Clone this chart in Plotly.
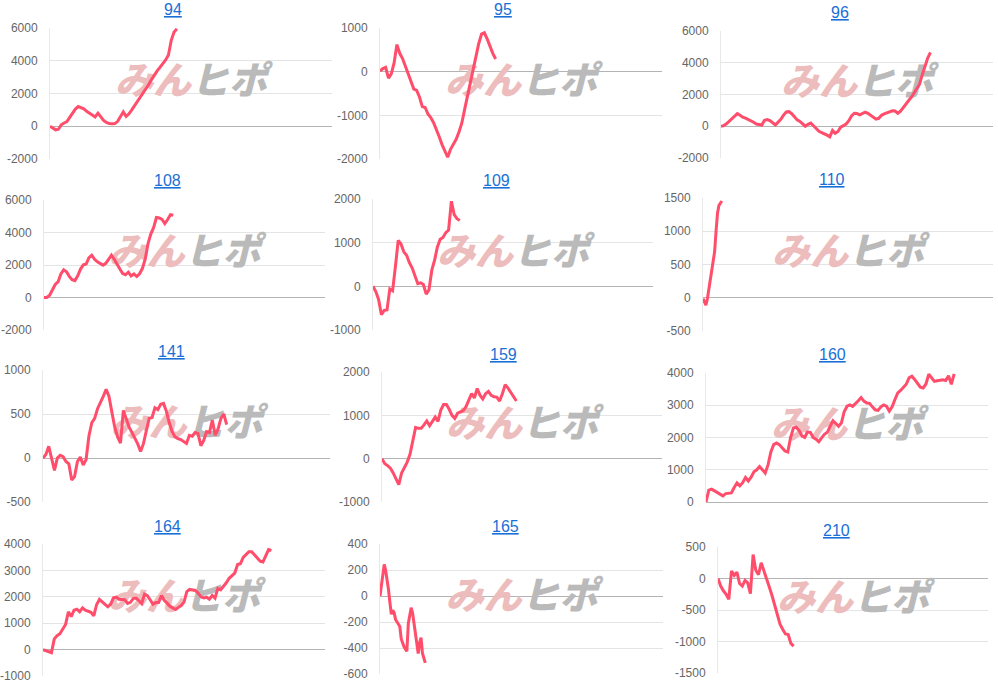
import plotly.graph_objects as go

# panel titles (each one is a link in the original page)
titles = ["94", "95", "96", "108", "109", "110", "141", "159", "160", "164", "165", "210"]

# cumulative P/L series
s94 = [0, -100, -220, -180, 90, 200, 280, 540, 840, 1050, 1200, 1150, 1060, 910, 790, 680,
       570, 800, 580, 360, 230, 160, 150, 160, 300, 580, 880, 600, 760, 1000, 1250, 1500,
       1800, 2030, 2250, 2550, 2850, 3150, 3380, 3600, 3820, 4050, 4350, 5250, 5750, 5950]
s95 = [15, 70, 100, -150, -50, 200, 620, 420, 300, 120, -80, -250, -400, -430, -580, -800,
       -820, -970, -1050, -1170, -1320, -1490, -1670, -1830, -1960, -1780, -1650, -1550, -1380,
       -1180, -870, -560, -230, 70, 350, 640, 860, 890, 750, 560, 420, 290]
s96 = [0, 40, 150, 300, 450, 650, 800, 690, 570, 510, 440, 370, 250, 140, 90, 80, 380, 420,
       360, 200, 80, 260, 430, 700, 900, 920, 790, 600, 400, 300, 150, 0, 120, 200, 30, -150,
       -320, -400, -460, -560, -670, -270, -450, -330, -60, 40, 140, 350, 650, 820, 800, 720,
       820, 890, 810, 700, 570, 450, 500, 690, 780, 860, 930, 970, 960, 810, 950, 1200, 1400,
       1620, 1830, 2100, 2350, 2650, 3250, 3800, 4300, 4650]
s108 = [0, 0, 140, 480, 800, 960, 1450, 1700, 1580, 1300, 1100, 1040, 1330, 1750, 2010, 2060,
        2450, 2600, 2350, 2190, 2100, 1990, 2100, 2350, 2600, 2350, 2020, 1750, 1480, 1400,
        1560, 1330, 1450, 1290, 1460, 1780, 2350, 3300, 3900, 4300, 4920, 4890, 4800, 4550,
        4800, 5100, 5060]
s109 = [0, -120, -300, -650, -550, -540, -60, -100, 450, 1050, 970, 790, 710, 540, 420, 230,
        60, 80, 40, -180, -80, 370, 600, 900, 1080, 1120, 1230, 1290, 1950, 1640, 1550, 1510]
s110 = [-15, -70, -110, -20, 130, 280, 410, 560, 690, 1000, 1270, 1390, 1430, 1455]
s141 = [0, 40, 133, 0, -140, 0, 30, 15, -40, -65, -250, -210, -40, 11, -80, -20, 250, 400,
        450, 560, 625, 700, 780, 700, 520, 350, 240, 170, 540, 450, 350, 290, 230, 160, 75,
        163, 310, 450, 460, 570, 550, 610, 620, 530, 400, 300, 240, 220, 210, 190, 165, 258,
        248, 290, 280, 140, 200, 300, 290, 430, 260, 330, 450, 500, 380]
s159 = [0, -115, -160, -220, -330, -480, -600, -330, -200, -80, 100, 450, 720, 700, 700, 780,
        870, 760, 850, 960, 860, 1120, 1250, 1250, 1140, 1000, 930, 1050, 1080, 1110, 1200,
        1350, 1500, 1400, 1620, 1465, 1380, 1500, 1550, 1460, 1430, 1420, 1330, 1500, 1710,
        1630, 1530, 1420, 1330]
s160 = [0, 370, 400, 350, 290, 230, 190, 260, 280, 280, 450, 590, 500, 600, 760, 650, 770,
        940, 1000, 1100, 1000, 900, 1150, 1550, 1780, 1830, 1780, 1680, 1580, 1550, 2000, 2295,
        2320, 2220, 2050, 2000, 2170, 2160, 2000, 1950, 1870, 1990, 2100, 2160, 2350, 2520,
        2440, 2350, 2450, 2800, 2970, 3010, 2965, 3070, 3140, 3240, 3130, 3070, 3060, 2950,
        2860, 2840, 2950, 3010, 2970, 2820, 2950, 3180, 3380, 3460, 3550, 3650, 3850, 3900,
        3800, 3660, 3560, 3535, 3660, 3960, 3850, 3740, 3760, 3770, 3790, 3770, 3915, 3650,
        3970]
s164 = [0, -40, -90, -120, 400, 528, 600, 800, 950, 1430, 1250, 1490, 1530, 1430, 1580, 1490,
        1447, 1410, 1280, 1700, 1900, 1790, 1710, 1620, 1720, 1960, 1990, 1910, 1887, 1887,
        1750, 1790, 1930, 1950, 1850, 1740, 2100, 2045, 1887, 1720, 1780, 1780, 2050, 1870,
        1760, 1640, 1580, 1520, 1600, 1670, 1800, 2200, 2280, 2265, 2240, 2140, 2000, 1960,
        1985, 1912, 2050, 1950, 2320, 2265, 2390, 2530, 2700, 2800, 2900, 3220, 3250, 3490,
        3600, 3711, 3711, 3600, 3470, 3350, 3320, 3550, 3790, 3760]
s165 = [0, 70, 160, 243, 195, 130, 50, -50, -140, -110, -130, -180, -200, -225, -235, -330,
        -370, -391, -410, -425, -212, -155, -90, -130, -210, -285, -360, -442, -360, -320,
        -440, -490, -515]
s210 = [0, -120, -195, -250, -330, 120, 50, 100, -80, -120, -30, -70, -240, 380, 130, 60,
        250, 130, 0, -135, -270, -410, -550, -730, -810, -880, -890, -1030, -1074]

series = [s94, s95, s96, s108, s109, s110, s141, s159, s160, s164, s165, s210]
# x spacing of the samples (same time axis on every panel, 0..100)
steps = [1, 1, 1, 1, 1, 0.5, 1, 1, 1, 1, 0.5, 1]

y_ranges = [(-2000, 6000), (-2000, 1000), (-2000, 6000),
            (-2000, 6000), (-1000, 2000), (-500, 1500),
            (-500, 1000), (-1000, 2000), (0, 4000),
            (-1000, 4000), (-600, 400), (-1500, 500)]
y_dticks = [2000, 1000, 2000, 2000, 1000, 500, 500, 1000, 1000, 1000, 200, 500]

# plot boxes in page pixels: left, right, top, bottom
boxes = [(50, 332, 28, 159), (380, 662, 28, 159), (721, 993, 31, 158),
         (44, 325, 200, 330), (373, 653, 199, 330), (703, 993, 198, 331),
         (43, 330, 370, 502), (382, 662, 372, 502), (706, 988, 373, 502),
         (43, 325, 544, 676), (380, 663, 544, 674), (718, 988, 547, 673)]
# title centres in page pixels
title_pos = [(173, 10), (503, 10), (840, 13),
             (167, 181), (496, 181), (832, 180),
             (171, 351), (504, 354), (832, 354),
             (167, 526), (506, 526), (836, 530)]

W, H = 998, 684
LINE = "#ff4d6b"
FONT = "Liberation Sans, Arial, sans-serif"

fig = go.Figure()
annotations = []

for i in range(12):
    n = i + 1
    xa = "x" if n == 1 else f"x{n}"
    ya = "y" if n == 1 else f"y{n}"
    lo, hi = y_ranges[i]
    wm_y = lo + 0.57 * (hi - lo)

    # watermark logo, drawn under the line
    fig.add_trace(go.Scatter(
        x=[50], y=[wm_y], mode="text", text=["みん"], textposition="middle left",
        textfont=dict(family="Noto Sans CJK JP", size=38, color="#edbcbc",
                      weight=900, style="italic"),
        hoverinfo="skip", showlegend=False, xaxis=xa, yaxis=ya, cliponaxis=False))
    fig.add_trace(go.Scatter(
        x=[50], y=[wm_y], mode="text", text=["ヒポ"], textposition="middle right",
        textfont=dict(family="Noto Sans CJK JP", size=38, color="#bababa",
                      weight=900, style="italic"),
        hoverinfo="skip", showlegend=False, xaxis=xa, yaxis=ya, cliponaxis=False))

    vals = series[i]
    xs = [k * steps[i] for k in range(len(vals))]
    fig.add_trace(go.Scatter(
        x=xs, y=vals, mode="lines", line=dict(color=LINE, width=3),
        hoverinfo="skip", showlegend=False, xaxis=xa, yaxis=ya))

    # plain hyphen for negatives, as in the original labels
    tickvals = list(range(lo, hi + 1, y_dticks[i]))
    ticktext = [str(v) for v in tickvals]

    l, r, t, b = boxes[i]
    fig.layout[f"xaxis{'' if n == 1 else n}"] = dict(
        domain=[l / W, r / W], range=[0, 100], anchor=ya, automargin=False,
        showgrid=False, zeroline=False, showticklabels=False, showline=False,
        fixedrange=True)
    fig.layout[f"yaxis{'' if n == 1 else n}"] = dict(
        domain=[1 - b / H, 1 - t / H], range=[lo, hi], anchor=xa,
        tickmode="array", tickvals=tickvals, ticktext=ticktext,
        automargin=False,
        showgrid=True, gridcolor="#e4e4e4", gridwidth=1,
        zeroline=True, zerolinecolor="#b4b4b4", zerolinewidth=1,
        showline=True, linecolor="#e8e8e8", linewidth=1,
        ticks="outside", ticklen=9, tickcolor="rgba(0,0,0,0)",
        tickfont=dict(family=FONT, size=12, color="#666666"),
        fixedrange=True)

    tx, ty = title_pos[i]
    annotations.append(dict(
        x=tx / W, y=1 - ty / H, xref="paper", yref="paper",
        text=f"<u>{titles[i]}</u>", showarrow=False,
        xanchor="center", yanchor="middle",
        font=dict(family=FONT, size=16, color="#1a6fd6")))

fig.update_layout(
    width=W, height=H,
    margin=dict(l=0, r=0, t=0, b=0),
    paper_bgcolor="white", plot_bgcolor="white",
    showlegend=False,
    annotations=annotations,
)

# page body margin would push the figure 8px off the corner
fig.write_html("out.html", config={"displayModeBar": False},
               post_script="document.body.style.margin='0';")
